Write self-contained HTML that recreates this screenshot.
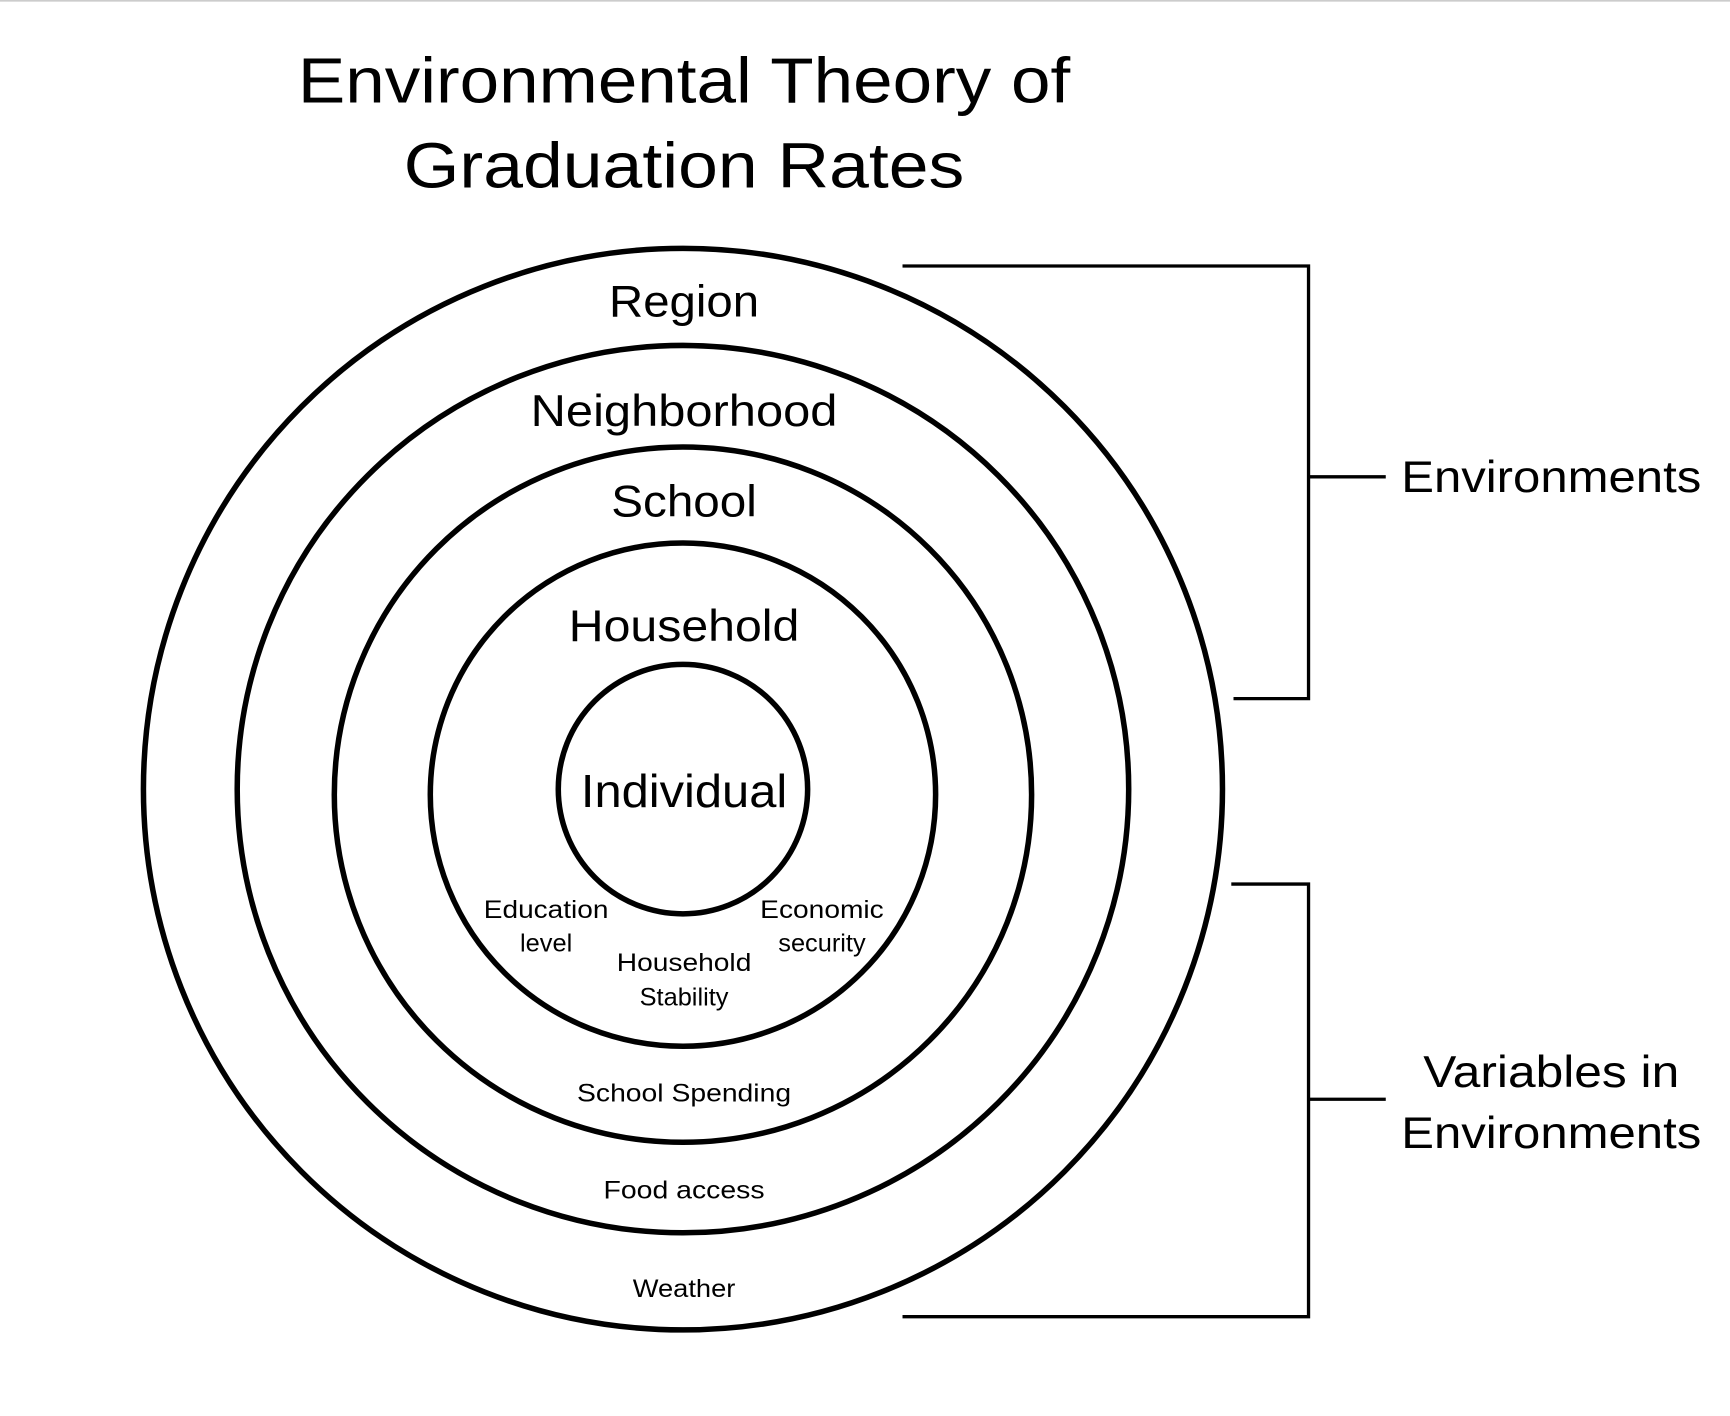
<!DOCTYPE html>
<html><head><meta charset="utf-8"><style>
html,body{margin:0;padding:0;background:#fff;}
svg{display:block;}
text{font-family:"Liberation Sans",sans-serif;fill:#000;}
</style></head><body>
<svg width="1730" height="1416" viewBox="0 0 1568 1283" preserveAspectRatio="none" xmlns="http://www.w3.org/2000/svg">
<rect x="0" y="0" width="1568" height="1.5" fill="#ccc"/>
<g text-anchor="middle">
<text x="620" y="93" font-size="58" textLength="700" lengthAdjust="spacingAndGlyphs">Environmental Theory of</text>
<text x="620" y="170" font-size="58" textLength="508" lengthAdjust="spacingAndGlyphs">Graduation Rates</text>
</g>
<g fill="none" stroke="#000" stroke-width="5">
<ellipse cx="619" cy="715" rx="489" ry="490"/>
<ellipse cx="619" cy="715" rx="404" ry="402"/>
<ellipse cx="619" cy="720" rx="316" ry="315"/>
<ellipse cx="619" cy="720" rx="229" ry="228"/>
<ellipse cx="619" cy="715" rx="113" ry="113"/>
</g>
<g fill="none" stroke="#000" stroke-width="3">
<polyline points="818,241 1186,241 1186,633 1118,633"/>
<line x1="1186" y1="432" x2="1256" y2="432"/>
<polyline points="1116,801 1186,801 1186,1193 818,1193"/>
<line x1="1186" y1="996" x2="1256" y2="996"/>
</g>
<g text-anchor="middle">
<text x="620" y="287" font-size="40" textLength="136" lengthAdjust="spacingAndGlyphs">Region</text>
<text x="620" y="386" font-size="40" textLength="278" lengthAdjust="spacingAndGlyphs">Neighborhood</text>
<text x="620" y="468" font-size="40" textLength="132" lengthAdjust="spacingAndGlyphs">School</text>
<text x="620" y="581" font-size="40" textLength="209" lengthAdjust="spacingAndGlyphs">Household</text>
<text x="620" y="731" font-size="42" textLength="187" lengthAdjust="spacingAndGlyphs">Individual</text>
<text x="495" y="832" font-size="23" textLength="113" lengthAdjust="spacingAndGlyphs">Education</text>
<text x="495" y="862" font-size="23">level</text>
<text x="620" y="880" font-size="23" textLength="122" lengthAdjust="spacingAndGlyphs">Household</text>
<text x="620" y="911" font-size="23">Stability</text>
<text x="745" y="832" font-size="23" textLength="112" lengthAdjust="spacingAndGlyphs">Economic</text>
<text x="745" y="862" font-size="23">security</text>
<text x="620" y="998" font-size="23" textLength="194" lengthAdjust="spacingAndGlyphs">School Spending</text>
<text x="620" y="1086" font-size="23" textLength="146" lengthAdjust="spacingAndGlyphs">Food access</text>
<text x="620" y="1175" font-size="23" textLength="93" lengthAdjust="spacingAndGlyphs">Weather</text>
<text x="1406" y="446" font-size="40" textLength="272" lengthAdjust="spacingAndGlyphs">Environments</text>
<text x="1406" y="985" font-size="40" textLength="232" lengthAdjust="spacingAndGlyphs">Variables in</text>
<text x="1406" y="1040" font-size="40" textLength="272" lengthAdjust="spacingAndGlyphs">Environments</text>
</g>
</svg>
</body></html>
